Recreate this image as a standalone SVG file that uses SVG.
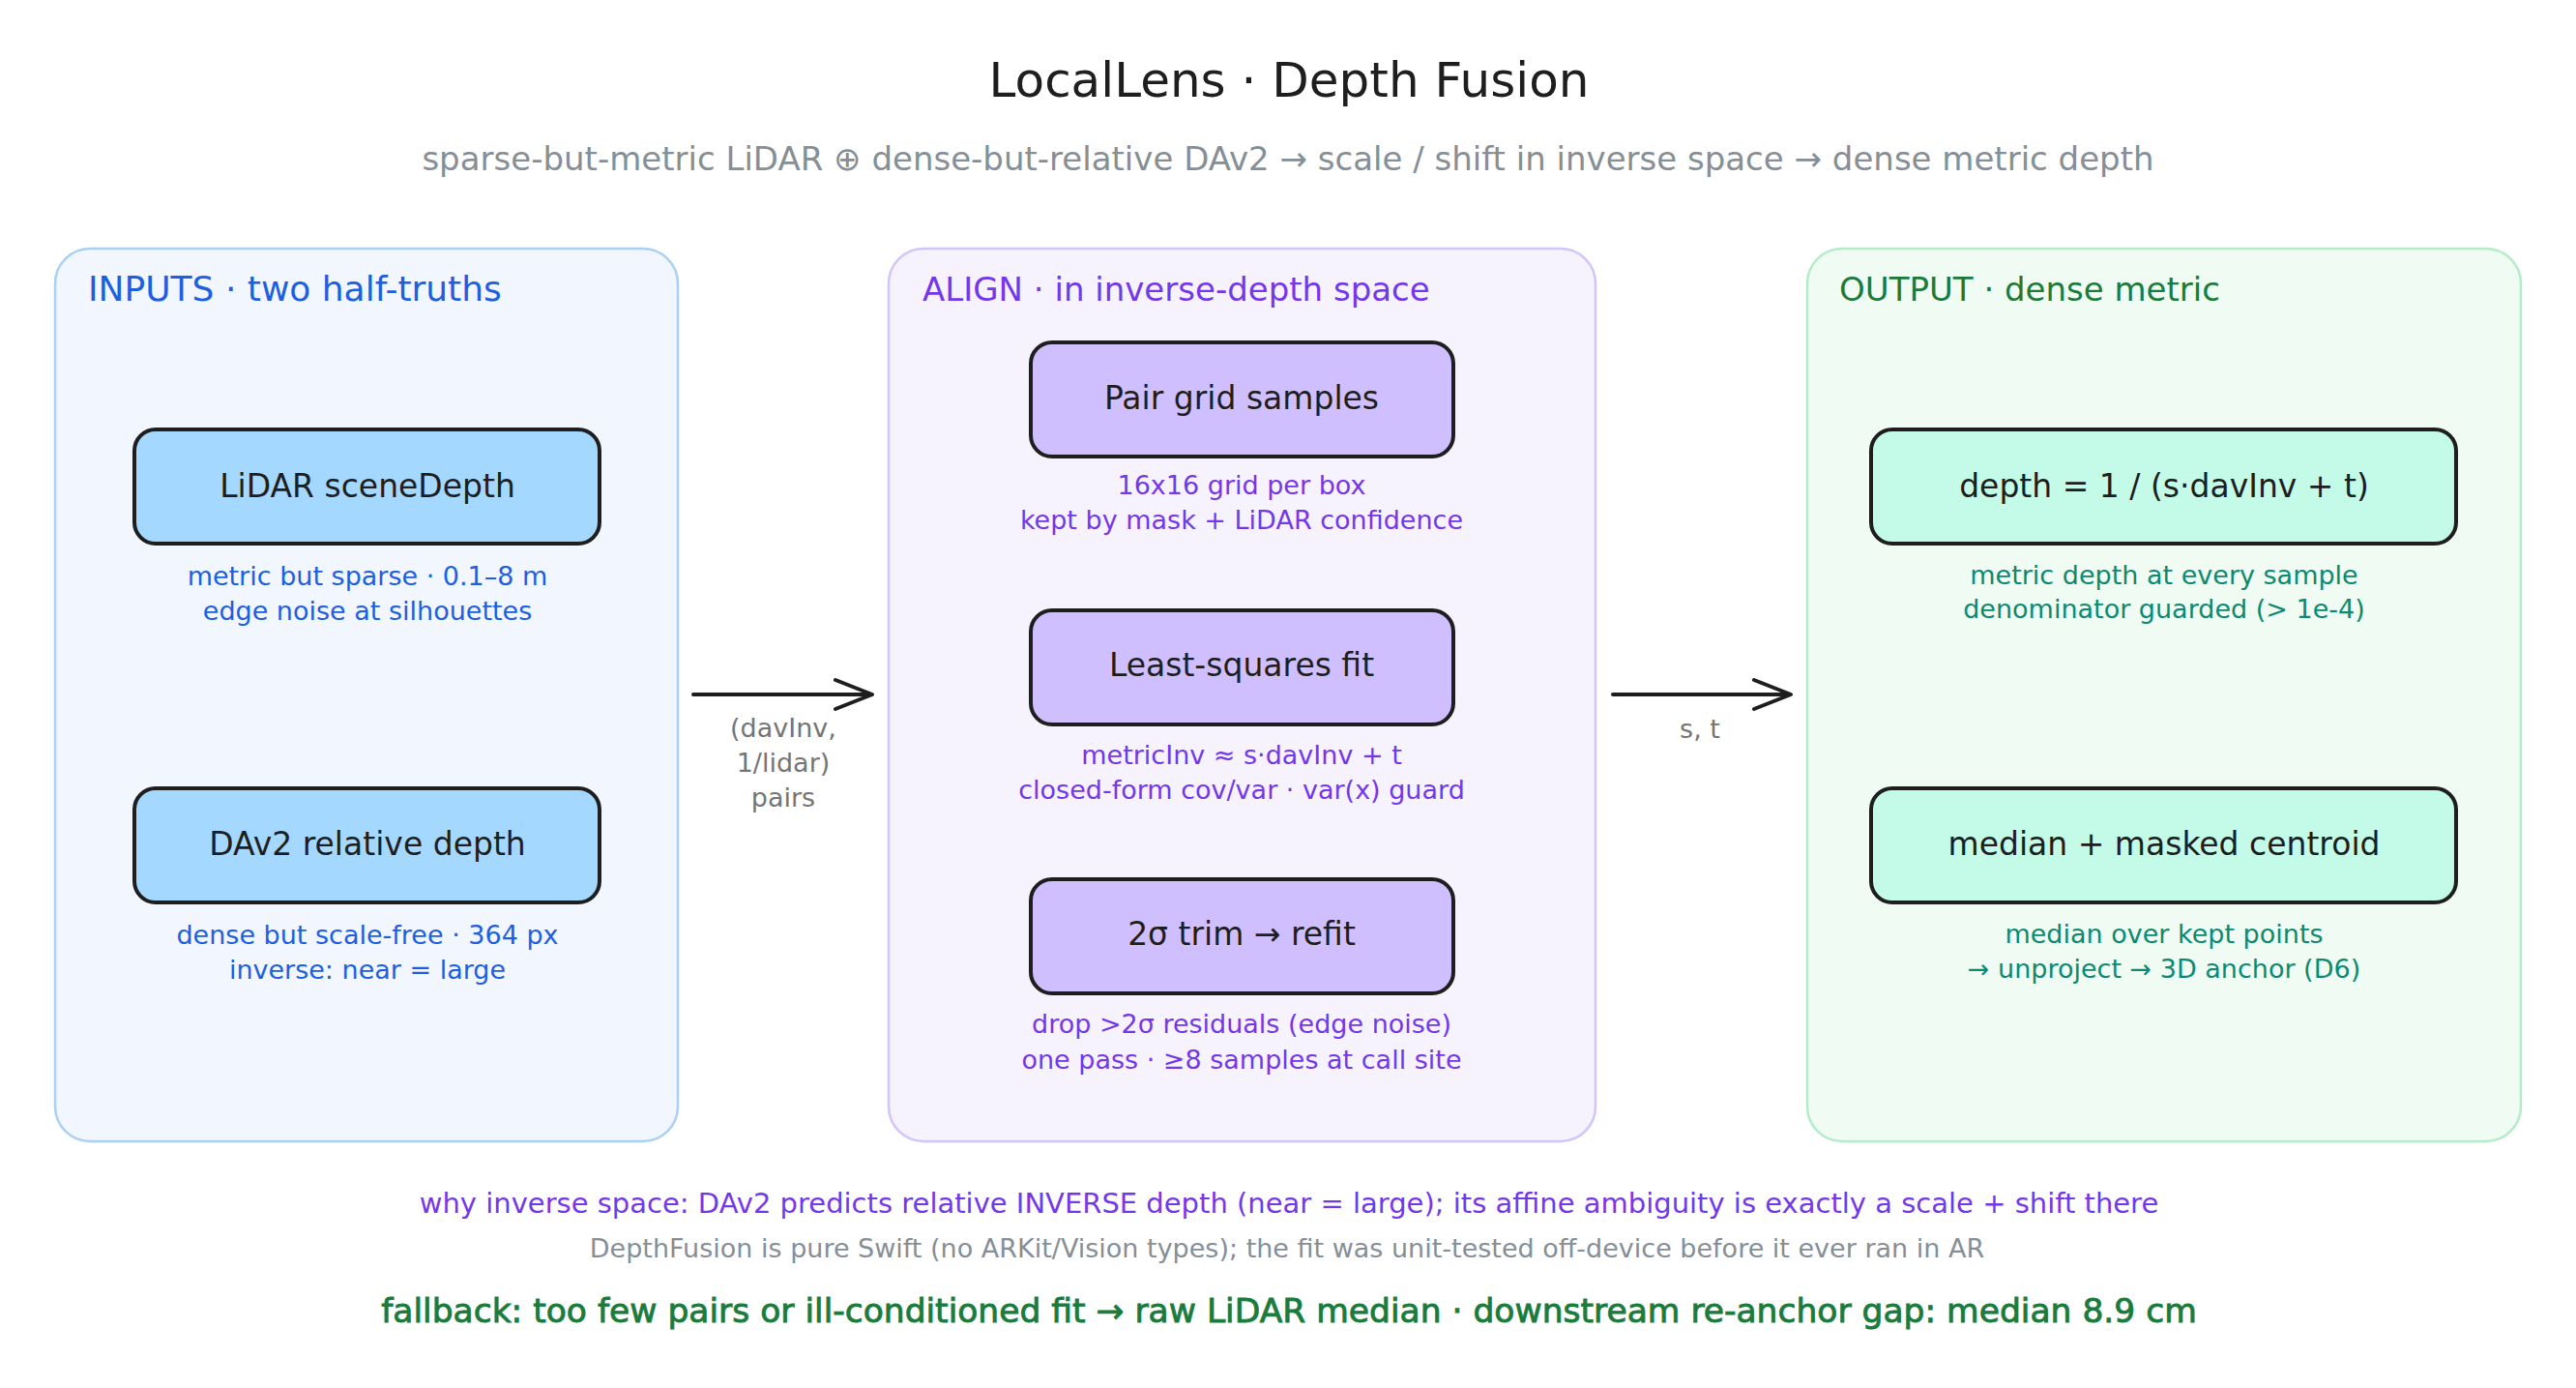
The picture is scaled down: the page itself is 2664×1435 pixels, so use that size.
<svg xmlns="http://www.w3.org/2000/svg" width="2664" height="1435" viewBox="0 0 2664 1435">
  <defs>
    <style>
      text { font-family: "DejaVu Sans", "Liberation Sans", sans-serif; }
      .title { font-size: 50px; fill: #1e1e1e; text-anchor: middle; }
      .subtitle { font-size: 34px; fill: #868e96; text-anchor: middle; }
      .hdr { font-size: 34px; }
      .lbl { font-size: 33px; fill: #1e1e1e; text-anchor: middle; }
      .sub { font-size: 27px; text-anchor: middle; }
      .edge { font-size: 27px; fill: #757575; text-anchor: middle; }
      .note1 { font-size: 29px; fill: #7437ea; text-anchor: middle; }
      .note2 { font-size: 27px; fill: #868e96; text-anchor: middle; }
      .note3 { font-size: 34.5px; fill: #1b7b3c; stroke: #1b7b3c; stroke-width: 0.9; text-anchor: middle; }
      .node { stroke: #1e1e1e; stroke-width: 4; }
      .panel { stroke-width: 2.5; }
      .blue { fill: #1d5fe0; }
      .purple { fill: #7437ea; }
      .green { fill: #1b7b3c; }
      .teal { fill: #0c8a70; }
      .conn { stroke: #1e1e1e; stroke-width: 4; fill: none; stroke-linecap: round; stroke-linejoin: round; }
    </style>
  </defs>
  <rect x="0" y="0" width="2664" height="1435" fill="#ffffff"/>

  <text class="title" x="1333" y="100">LocalLens · Depth Fusion</text>
  <text class="subtitle" x="1332" y="176">sparse-but-metric LiDAR ⊕ dense-but-relative DAv2 → scale / shift in inverse space → dense metric depth</text>

  <g id="panel-inputs">
    <rect class="panel" x="57" y="257" width="644" height="923" rx="36" fill="#f1f6ff" stroke="#a9d1f5"/>
    <text class="hdr blue" x="91" y="311" style="font-size:36px">INPUTS · two half-truths</text>
  </g>
  <g id="panel-align">
    <rect class="panel" x="919" y="257" width="731" height="923" rx="36" fill="#f6f3ff" stroke="#d3c4fb"/>
    <text class="hdr purple" x="954" y="311">ALIGN · in inverse-depth space</text>
  </g>
  <g id="panel-output">
    <rect class="panel" x="1869" y="257" width="738" height="923" rx="36" fill="#effbf3" stroke="#b4ecc8"/>
    <text class="hdr green" x="1902" y="311">OUTPUT · dense metric</text>
  </g>

  <g id="node-lidar">
    <rect class="node" x="139" y="444" width="481" height="118" rx="22" fill="#a5d8ff"/>
    <text class="lbl" x="380" y="514">LiDAR sceneDepth</text>
    <text class="sub blue" x="380" y="605">metric but sparse · 0.1–8 m</text>
    <text class="sub blue" x="380" y="641">edge noise at silhouettes</text>
  </g>
  <g id="node-dav2">
    <rect class="node" x="139" y="815" width="481" height="118" rx="22" fill="#a5d8ff"/>
    <text class="lbl" x="380" y="884">DAv2 relative depth</text>
    <text class="sub blue" x="380" y="976">dense but scale-free · 364 px</text>
    <text class="sub blue" x="380" y="1012">inverse: near = large</text>
  </g>

  <g id="node-pair">
    <rect class="node" x="1066" y="354" width="437" height="118" rx="22" fill="#d0bfff"/>
    <text class="lbl" x="1284" y="423">Pair grid samples</text>
    <text class="sub purple" x="1284" y="511">16x16 grid per box</text>
    <text class="sub purple" x="1284" y="547">kept by mask + LiDAR confidence</text>
  </g>
  <g id="node-lsq">
    <rect class="node" x="1066" y="631" width="437" height="118" rx="22" fill="#d0bfff"/>
    <text class="lbl" x="1284" y="699">Least-squares fit</text>
    <text class="sub purple" x="1284" y="790">metricInv ≈ s·davInv + t</text>
    <text class="sub purple" x="1284" y="826">closed-form cov/var · var(x) guard</text>
  </g>
  <g id="node-trim">
    <rect class="node" x="1066" y="909" width="437" height="118" rx="22" fill="#d0bfff"/>
    <text class="lbl" x="1284" y="977">2σ trim → refit</text>
    <text class="sub purple" x="1284" y="1068">drop &gt;2σ residuals (edge noise)</text>
    <text class="sub purple" x="1284" y="1105">one pass · ≥8 samples at call site</text>
  </g>

  <g id="node-depth">
    <rect class="node" x="1935" y="444" width="605" height="118" rx="22" fill="#c3fae8"/>
    <text class="lbl" x="2238" y="514">depth = 1 / (s·davInv + t)</text>
    <text class="sub teal" x="2238" y="604">metric depth at every sample</text>
    <text class="sub teal" x="2238" y="639">denominator guarded (&gt; 1e-4)</text>
  </g>
  <g id="node-median">
    <rect class="node" x="1935" y="815" width="605" height="118" rx="22" fill="#c3fae8"/>
    <text class="lbl" x="2238" y="884">median + masked centroid</text>
    <text class="sub teal" x="2238" y="975">median over kept points</text>
    <text class="sub teal" x="2238" y="1011">→ unproject → 3D anchor (D6)</text>
  </g>

  <g id="connectors">
    <path class="conn" d="M717 718 L901 718 M864 703 L902 718 L864 733"/>
    <text class="edge" x="810" y="762">(davInv,</text>
    <text class="edge" x="810" y="798">1/lidar)</text>
    <text class="edge" x="810" y="834">pairs</text>
    <path class="conn" d="M1668 718 L1851 718 M1814 703 L1852 718 L1814 733"/>
    <text class="edge" x="1758" y="763">s, t</text>
  </g>

  <g id="notes">
    <text class="note1" x="1333" y="1254">why inverse space: DAv2 predicts relative INVERSE depth (near = large); its affine ambiguity is exactly a scale + shift there</text>
    <text class="note2" x="1331" y="1300">DepthFusion is pure Swift (no ARKit/Vision types); the fit was unit-tested off-device before it ever ran in AR</text>
    <text class="note3" x="1333" y="1367">fallback: too few pairs or ill-conditioned fit → raw LiDAR median · downstream re-anchor gap: median 8.9 cm</text>
  </g>
</svg>
